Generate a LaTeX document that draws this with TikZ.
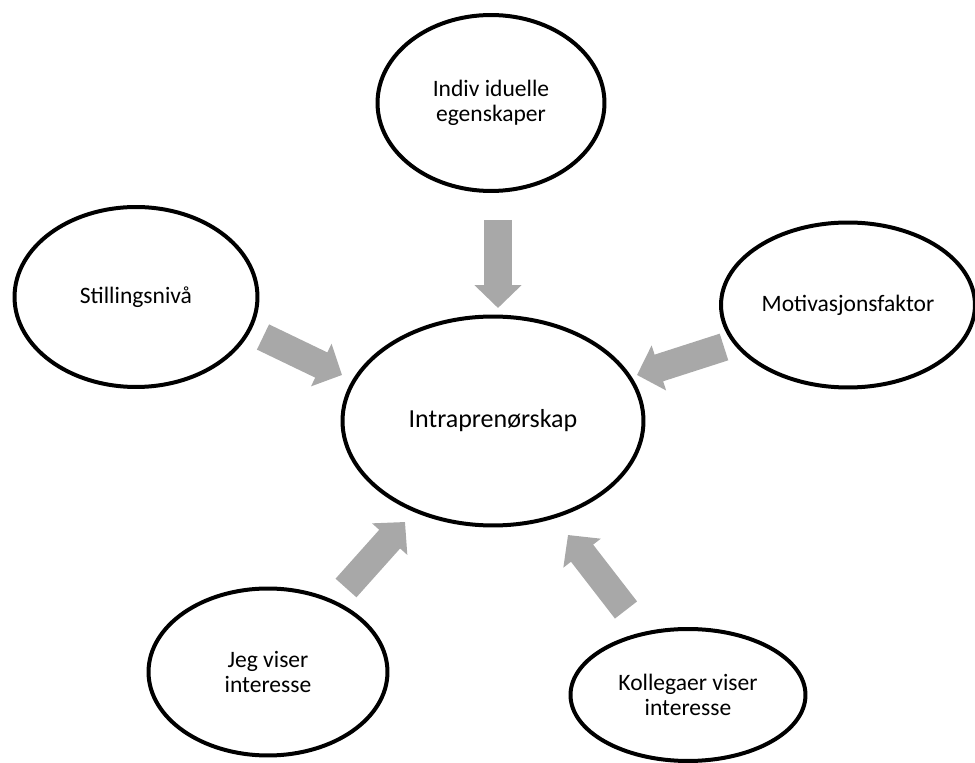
\documentclass[tikz,border=0pt]{standalone}
\usepackage{fontspec}
\setmainfont{Carlito}
\usetikzlibrary{shapes.geometric}
\usetikzlibrary{arrows,arrows.meta}
\definecolor{pilgrau}{RGB}{168,168,168}

\tikzset{
    boble/.style={ellipse, draw=black, line width=0.08cm, inner sep=0pt, align=center, font=\fontsize{13.4}{14.5}\selectfont},
    pil/.style={pilgrau, line width=0.56cm, -{Triangle[length=0.46cm, width=0.92cm]}}
}

\begin{document}
\begin{tikzpicture}[x=0.02cm, y=-0.02cm]

    \useasboundingbox (0,0) rectangle (975,763);

    % midten
    \node[boble, minimum width=6.02cm, minimum height=4.18cm, font=\fontsize{14.8}{17}\selectfont] (intra) at (493,421) {Intraprenørskap};

    % rundt
    \node[boble, minimum width=4.54cm, minimum height=3.52cm] (indiv) at (491,103) {Indiv iduelle\\egenskaper};
    \node[boble, minimum width=4.86cm, minimum height=3.6cm] (still) at (136,297) {Stillingsnivå};
    \node[boble, minimum width=5.08cm, minimum height=3.3cm] (motiv) at (848,305) {Motivasjonsfaktor};
    \node[boble, minimum width=4.78cm, minimum height=3.34cm] (jeg) at (268,672) {Jeg viser\\interesse};
    \node[boble, minimum width=4.7cm, minimum height=2.64cm] (koll) at (688,695) {Kollegaer viser\\interesse};

    % piler
    \coordinate (indiv-fra) at (498,220); \coordinate (indiv-til) at (498,308);
    \coordinate (still-fra) at (263,337); \coordinate (still-til) at (342,375);
    \coordinate (motiv-fra) at (724,347); \coordinate (motiv-til) at (637,375);
    \coordinate (jeg-fra) at (346,588);   \coordinate (jeg-til) at (405,522);
    \coordinate (koll-fra) at (626,610);  \coordinate (koll-til) at (568,535);

    \foreach \n in {indiv,still,motiv,jeg,koll}{
        \draw[pil] (\n-fra) -- (\n-til);
    }

\end{tikzpicture}
\end{document}
